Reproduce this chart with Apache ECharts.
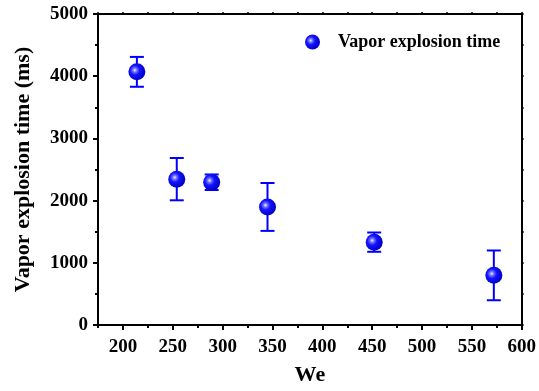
<!DOCTYPE html>
<html>
<head>
<meta charset="utf-8">
<script src="https://cdn.jsdelivr.net/npm/echarts@6/dist/echarts.min.js"></script>
<style>
  html, body { margin: 0; padding: 0; background: #ffffff; }
  #chart { width: 539px; height: 391px; }
</style>
</head>
<body>
<div id="chart"></div>
<script>
// Weber number vs. vapor explosion time, mean with error bars
const weValues = [214, 254, 289, 345, 452, 572];
const timeValues = [4070, 2345, 2295, 1898, 1332, 798];
const timeErrors = [240, 340, 125, 385, 155, 400];

const xTicks = [200, 250, 300, 350, 400, 450, 500, 550, 600];
const xMinorTicks = [175, 225, 275, 325, 375, 425, 475, 525, 575];
const yTicks = [0, 1000, 2000, 3000, 4000, 5000];
const yMinorTicks = [500, 1500, 2500, 3500, 4500];

const seriesName = 'Vapor explosion time';
const FONT = 'Liberation Serif';
const BLUE = '#0000ff';

const points = weValues.map((x, i) => [x, timeValues[i]]);
const errRows = weValues.map((x, i) => [x, timeValues[i], timeErrors[i]]);

const sphere = {
  type: 'radial', x: 0.38, y: 0.4, r: 0.62,
  colorStops: [
    { offset: 0, color: '#f2f2ff' },
    { offset: 0.18, color: '#7a7aff' },
    { offset: 0.45, color: '#1414ff' },
    { offset: 1, color: '#0000c4' }
  ]
};

const labelStyle = { color: '#000', fontFamily: FONT, fontWeight: 'bold', fontSize: 19 };
const lineStyle = { color: '#000', width: 2 };
const plain = v => String(v);

const chart = echarts.init(document.getElementById('chart'), null, { renderer: 'canvas' });

chart.setOption({
  animation: false,
  backgroundColor: '#ffffff',
  grid: { left: 98, right: 15, top: 14, bottom: 63, containLabel: false },
  legend: {
    data: [seriesName],
    left: 300, top: 28,
    icon: 'circle',
    itemWidth: 15, itemHeight: 15,
    textStyle: { color: '#000', fontFamily: FONT, fontWeight: 'bold', fontSize: 18, padding: [0, 0, 0, 13] }
  },
  xAxis: [
    {
      type: 'value', position: 'bottom', min: 175, max: 600,
      name: 'We', nameLocation: 'middle', nameGap: 39,
      nameTextStyle: { color: '#000', fontFamily: FONT, fontWeight: 'bold', fontSize: 22 },
      axisLine: { show: true, onZero: false, lineStyle: lineStyle },
      axisTick: { show: true, inside: false, length: 5, customValues: xTicks, lineStyle: lineStyle },
      axisLabel: Object.assign({ margin: 13, customValues: xTicks, formatter: plain }, labelStyle),
      splitLine: { show: false }
    },
    {
      type: 'value', position: 'bottom', min: 175, max: 600,
      axisLine: { show: false, onZero: false },
      axisTick: { show: true, inside: false, length: 3, customValues: xMinorTicks, lineStyle: lineStyle },
      axisLabel: { show: false },
      splitLine: { show: false }
    },
    {
      type: 'value', position: 'top', min: 175, max: 600,
      axisLine: { show: true, onZero: false, lineStyle: lineStyle },
      axisTick: { show: true, inside: false, length: 2, customValues: xTicks.concat(xMinorTicks), lineStyle: { color: '#000', width: 1.5 } },
      axisLabel: { show: false },
      splitLine: { show: false }
    }
  ],
  yAxis: [
    {
      type: 'value', position: 'left', min: 0, max: 5000, interval: 1000,
      name: 'Vapor explosion time (ms)', nameLocation: 'middle', nameGap: 64, nameRotate: 90,
      nameTextStyle: { color: '#000', fontFamily: FONT, fontWeight: 'bold', fontSize: 22 },
      axisLine: { show: true, onZero: false, lineStyle: lineStyle },
      axisTick: { show: true, inside: false, length: 5, lineStyle: lineStyle },
      minorTick: { show: true, splitNumber: 2, length: 3, lineStyle: lineStyle },
      axisLabel: Object.assign({ margin: 10, customValues: yTicks, formatter: plain }, labelStyle),
      splitLine: { show: false },
      minorSplitLine: { show: false }
    },
    {
      type: 'value', position: 'right', min: 0, max: 5000,
      axisLine: { show: true, onZero: false, lineStyle: lineStyle },
      axisTick: { show: true, inside: false, length: 2, customValues: yTicks.concat(yMinorTicks), lineStyle: { color: '#000', width: 1.5 } },
      axisLabel: { show: false },
      splitLine: { show: false }
    }
  ],
  series: [
    {
      name: 'error',
      type: 'custom',
      xAxisIndex: 0, yAxisIndex: 0,
      z: 2,
      silent: true,
      data: errRows,
      renderItem: function (params, api) {
        const x = api.value(0), y = api.value(1), e = api.value(2);
        const hi = api.coord([x, y + e]);
        const lo = api.coord([x, y - e]);
        const cap = 7;
        const style = { stroke: BLUE, lineWidth: 2, fill: null };
        return {
          type: 'group',
          children: [
            { type: 'line', shape: { x1: hi[0], y1: hi[1], x2: lo[0], y2: lo[1] }, style: style },
            { type: 'line', shape: { x1: hi[0] - cap, y1: hi[1], x2: hi[0] + cap, y2: hi[1] }, style: style },
            { type: 'line', shape: { x1: lo[0] - cap, y1: lo[1], x2: lo[0] + cap, y2: lo[1] }, style: style }
          ]
        };
      }
    },
    {
      name: seriesName,
      type: 'scatter',
      xAxisIndex: 0, yAxisIndex: 0,
      z: 3,
      symbol: 'circle',
      symbolSize: 17,
      itemStyle: { color: sphere, opacity: 1 },
      data: points
    }
  ]
});
</script>
</body>
</html>
